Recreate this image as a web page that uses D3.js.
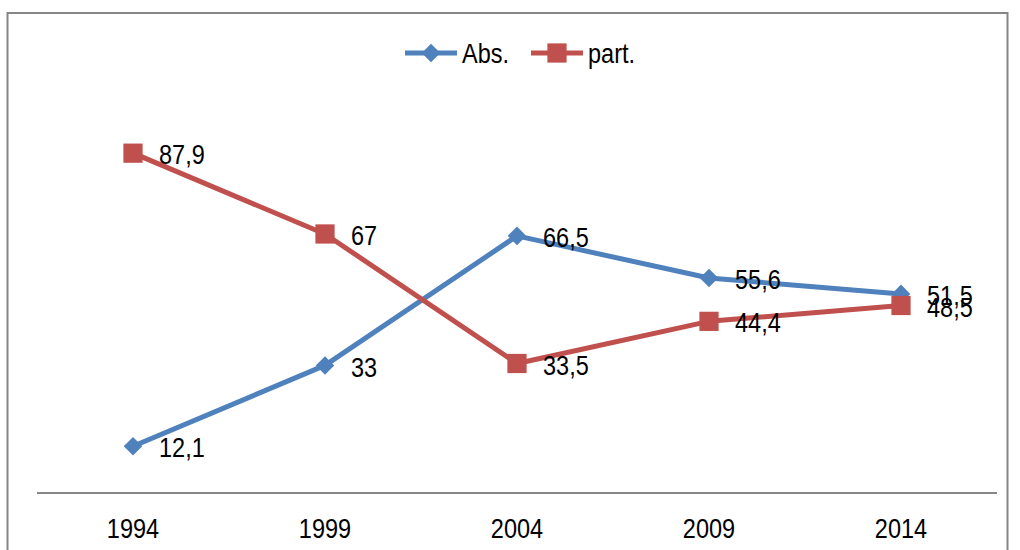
<!DOCTYPE html>
<html><head><meta charset="utf-8">
<script src="https://cdn.jsdelivr.net/npm/d3@7"></script>
<style>body{margin:0;background:#fff}svg{display:block}</style>
</head><body>
<script>
const years = ["1994","1999","2004","2009","2014"];
const absValues = [12.1, 33, 66.5, 55.6, 51.5];
const partValues = [87.9, 67, 33.5, 44.4, 48.5];
const seriesNames = ["Abs.", "part."];
const colors = ["#4F81BD", "#C0504D"];

const W = 1020, H = 550;
const svg = d3.select("body").append("svg").attr("width", W).attr("height", H);
svg.append("rect").attr("x", 7.5).attr("y", 13).attr("width", 1000).attr("height", 560)
  .attr("fill", "none").attr("stroke", "#868686").attr("stroke-width", 2);

const x = d3.scaleBand().domain(years).range([37, 997]);
const y = d3.scaleLinear().domain([0, 100]).range([493, 106.4]);
const font = "'Liberation Sans', Arial, sans-serif";
const FS = 23.5;
const SY = 1.17;

svg.append("line").attr("x1", 37).attr("x2", 997).attr("y1", 493).attr("y2", 493)
  .attr("stroke", "#868686").attr("stroke-width", 2);

const xAxis = svg.append("g").attr("transform", "translate(0,493)")
  .call(d3.axisBottom(x).tickSize(0).tickPadding(0));
xAxis.select(".domain").remove();
xAxis.selectAll("text").attr("font-family", font).attr("font-size", FS).attr("fill", "#000")
  .attr("y", 0).attr("dy", "0.35em").attr("transform", `translate(0,35) scale(1,${SY})`);

const series = [
  {name: seriesNames[0], values: absValues, color: colors[0], diamond: true},
  {name: seriesNames[1], values: partValues, color: colors[1], diamond: false}
];
const cx = d => x(d) + x.bandwidth() / 2;
const line = d3.line().x(d => cx(d.year)).y(d => y(d.v));
const marker = s => d3.symbol().type(s.diamond ? d3.symbolDiamond2 : d3.symbolSquare).size(s.diamond ? 220 : 370);

series.forEach(s => {
  const pts = years.map((yr, i) => ({year: yr, v: s.values[i]}));
  svg.append("path").datum(pts).attr("d", line).attr("fill", "none")
    .attr("stroke", s.color).attr("stroke-width", 5).attr("stroke-linejoin", "round");
});
series.forEach(s => {
  const pts = years.map((yr, i) => ({year: yr, v: s.values[i]}));
  svg.selectAll(null).data(pts).enter().append("path")
    .attr("d", marker(s))
    .attr("transform", d => `translate(${cx(d.year)},${y(d.v)})`)
    .attr("fill", s.color);
});
series.forEach(s => {
  const pts = years.map((yr, i) => ({year: yr, v: s.values[i]}));
  svg.selectAll(null).data(pts).enter().append("text")
    .attr("transform", d => `translate(${cx(d.year) + 26},${y(d.v) + 1.5}) scale(1,${SY})`)
    .attr("dy", "0.35em").attr("font-family", font).attr("font-size", FS).attr("fill", "#000")
    .text(d => String(d.v).replace(".", ","));
});

// legend
const lg = [{x0: 405, tx: 462}, {x0: 531, tx: 588}];
series.forEach((s, i) => {
  const g = svg.append("g");
  g.append("line").attr("x1", lg[i].x0).attr("x2", lg[i].x0 + 52).attr("y1", 53).attr("y2", 53)
    .attr("stroke", s.color).attr("stroke-width", 5);
  g.append("path").attr("d", marker(s))
    .attr("transform", `translate(${lg[i].x0 + 26},53)`).attr("fill", s.color);
  g.append("text").attr("transform", `translate(${lg[i].tx},53) scale(1,${SY})`).attr("dy", "0.35em")
    .attr("font-family", font).attr("font-size", FS).attr("fill", "#000").text(s.name);
});
</script>
</body></html>
